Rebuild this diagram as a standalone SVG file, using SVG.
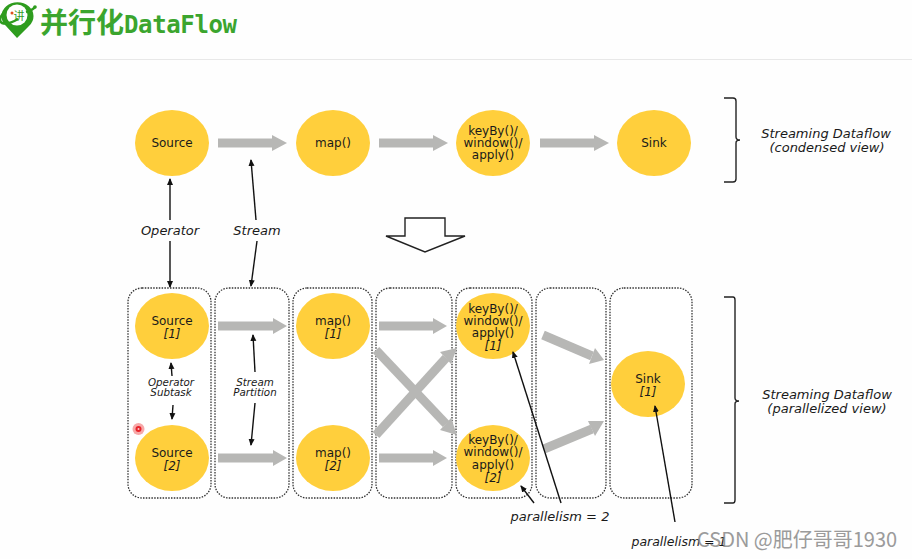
<svg xmlns="http://www.w3.org/2000/svg" width="912" height="559" viewBox="0 0 912 559">
<defs>
<marker id="bk" markerWidth="7" markerHeight="7" refX="6" refY="3" orient="auto" markerUnits="userSpaceOnUse" viewBox="0 0 7 6"><path d="M0 0L7 3L0 6Z" fill="#111"/></marker>
</defs>
<style>
text{font-family:"DejaVu Sans","Liberation Sans",sans-serif;fill:#1a1a1a;text-anchor:middle}
.n ellipse{fill:#ffcf3c}
.t{font-size:12px}
.i{font-style:italic}
.l{font-size:13px;font-style:italic}
.s{font-size:10.300px;font-style:italic}
.box{fill:#fff;stroke:#333;stroke-width:1.3;stroke-dasharray:1.5 1.3}
.g{stroke:#b7b7b5;stroke-width:9;fill:none}
.gh{fill:#b7b7b5}
.b{stroke:#111;stroke-width:1.4;fill:none;marker-end:url(#bk)}
.br{stroke:#222;stroke-width:1.4;fill:none}
</style>
<rect width="912" height="559" fill="#fefefe"/>

<g id="header">
<path d="M17 38L6 26A16 14 0 1 1 29 26Z" fill="#2e9c1e"/>
<circle cx="17" cy="15" r="10.500" fill="#fff"/>
<path d="M5 11Q-3 20 2 23Q8 25 18 19" fill="none" stroke="#2e9c1e" stroke-width="2.500"/>
<path d="M26 12Q33 10 35 7" fill="none" stroke="#2e9c1e" stroke-width="2.500"/>
<circle cx="35" cy="7" r="1.800" fill="#2e9c1e"/>
<circle cx="12" cy="13" r="1.500" fill="#e0501e"/>
<text x="19" y="20" style="font-family:'Noto Sans CJK SC',sans-serif;font-size:11px;fill:#2e9c1e">讲</text>
<text x="40" y="33" style="font-family:'Noto Sans CJK SC',sans-serif;font-size:28px;font-weight:700;fill:#3ba52e;text-anchor:start">并行化</text>
<text x="124" y="33" textLength="113" lengthAdjust="spacing" style="font-family:'DejaVu Sans Mono','Liberation Mono',monospace;font-size:24px;font-weight:700;fill:#3ba52e;text-anchor:start">DataFlow</text>
<path d="M10 59.500H912" stroke="#e8e8e8" stroke-width="1.200"/>
</g>

<g id="subtask-boxes">
<rect id="box-source" class="box" x="128" y="288" width="83" height="210" rx="14"/>
<rect id="box-stream1" class="box" x="215" y="288" width="74" height="210" rx="14"/>
<rect id="box-map" class="box" x="293" y="288" width="79" height="210" rx="14"/>
<rect id="box-cross" class="box" x="376" y="288" width="76" height="210" rx="14"/>
<rect id="box-key" class="box" x="456" y="288" width="76" height="210" rx="14"/>
<rect id="box-stream2" class="box" x="536" y="288" width="70" height="210" rx="14"/>
<rect id="box-sink" class="box" x="610" y="288" width="82" height="210" rx="14"/>
</g>

<g id="stream-arrows">
<path class="g" d="M218 143H273"/><path class="gh" d="M272 135L287 143L272 151Z"/>
<path class="g" d="M379 143H434"/><path class="gh" d="M433 135L448 143L433 151Z"/>
<path class="g" d="M540 143H595"/><path class="gh" d="M594 135L609 143L594 151Z"/>
<path class="g" d="M218 326H274"/><path class="gh" d="M273 318L287 326L273 334Z"/>
<path class="g" d="M218 458H274"/><path class="gh" d="M273 450L287 458L273 466Z"/>
<path class="g" d="M379 326H434"/><path class="gh" d="M433 318L447 326L433 334Z"/>
<path class="g" d="M379 458H434"/><path class="gh" d="M433 450L447 458L433 466Z"/>
<path class="g" d="M376 350L446 424"/><path class="gh" d="M440 430L457 435L451 418Z"/>
<path class="g" d="M376 435L446 358"/><path class="gh" d="M440 352L457 348L451 364Z"/>
<path class="g" d="M543 335L592 356"/><path class="gh" d="M589 364L604 360L595 348Z"/>
<path class="g" d="M544 449L592 429"/><path class="gh" d="M588 421L604 421L595 436Z"/>
</g>

<g id="node-source" class="n"><ellipse cx="172" cy="143" rx="37" ry="33"/><text class="t" x="172" y="147">Source</text></g>
<g id="node-map" class="n"><ellipse cx="333" cy="143" rx="37" ry="33"/><text class="t" x="333" y="147">map()</text></g>
<g id="node-keyby" class="n"><ellipse cx="493" cy="143" rx="37" ry="33"/><text class="t" x="493" y="135">keyBy()/</text><text class="t" x="493" y="147">window()/</text><text class="t" x="493" y="159">apply()</text></g>
<g id="node-sink" class="n"><ellipse cx="654" cy="143" rx="37" ry="33"/><text class="t" x="654" y="147">Sink</text></g>

<g id="node-source1" class="n"><ellipse cx="172" cy="326" rx="37" ry="33"/><text class="t" x="172" y="325">Source</text><text class="t i" x="172" y="338">[1]</text></g>
<g id="node-source2" class="n"><ellipse cx="172" cy="458" rx="37" ry="33"/><text class="t" x="172" y="457">Source</text><text class="t i" x="172" y="470">[2]</text></g>
<g id="node-map1" class="n"><ellipse cx="333" cy="326" rx="37" ry="33"/><text class="t" x="333" y="325">map()</text><text class="t i" x="333" y="338">[1]</text></g>
<g id="node-map2" class="n"><ellipse cx="333" cy="458" rx="37" ry="33"/><text class="t" x="333" y="457">map()</text><text class="t i" x="333" y="470">[2]</text></g>
<g id="node-keyby1" class="n"><ellipse cx="493" cy="326" rx="37" ry="33"/><text class="t" x="493" y="313">keyBy()/</text><text class="t" x="493" y="325">window()/</text><text class="t" x="493" y="337">apply()</text><text class="t i" x="493" y="350">[1]</text></g>
<g id="node-keyby2" class="n"><ellipse cx="493" cy="458" rx="37" ry="33"/><text class="t" x="493" y="444">keyBy()/</text><text class="t" x="493" y="456">window()/</text><text class="t" x="493" y="469">apply()</text><text class="t i" x="493" y="482">[2]</text></g>
<g id="node-sink1" class="n"><ellipse cx="648" cy="384" rx="37" ry="33"/><text class="t" x="648" y="383">Sink</text><text class="t i" x="648" y="396">[1]</text></g>

<g id="connectors">
<path id="hollow-arrow" d="M405 218H445V236H465L425 252L386 236H405Z" fill="#fff" stroke="#222" stroke-width="1.400"/>
<path class="b" d="M170 220V179"/>
<path class="b" d="M170 241V287"/>
<path class="b" d="M256 220L251 160"/>
<path class="b" d="M257 241L251 286"/>
<path class="b" d="M172 376L171 363"/>
<path class="b" d="M173 405L172 419"/>
<path class="b" d="M255 372L253 335"/>
<path class="b" d="M255 403L251 445"/>
<path class="b" d="M561 503L513 352"/>
<path class="b" d="M534 503L521 486"/>
<path class="b" d="M675 522L655 406"/>
</g>

<g id="labels">
<text class="l" x="170" y="235">Operator</text>
<text class="l" x="257" y="235">Stream</text>
<text class="s" x="171" y="386">Operator</text><text class="s" x="171" y="396">Subtask</text>
<text class="s" x="255" y="386">Stream</text><text class="s" x="255" y="396">Partition</text>
<text class="l" x="826" y="138">Streaming Dataflow</text>
<text class="l" x="827" y="152">(condensed view)</text>
<text class="l" x="827" y="399">Streaming Dataflow</text>
<text class="l" x="827" y="413">(parallelized view)</text>
<text class="l" x="560" y="521">parallelism = 2</text>
<text class="l" x="679" y="546" style="font-size:12.500px">parallelism = 1</text>
</g>

<g id="braces">
<path class="br" d="M724 98H733Q736 98 736 101V137Q736 140 740 140Q736 140 736 143V179Q736 182 733 182H724"/>
<path class="br" d="M724 297H733Q735 297 735 300V398Q735 401 739 401Q735 401 735 404V500Q735 503 733 503H724"/>
</g>

<g id="cursor-mark">
<circle cx="138.500" cy="429" r="6" fill="#f7a8a8"/>
<circle cx="138.500" cy="429" r="3" fill="#e8222a"/>
<circle cx="138.500" cy="429" r="1" fill="#f8c8c8"/>
</g>
<text id="watermark" x="697" y="547" style="font-family:'Noto Sans CJK SC','DejaVu Sans',sans-serif;font-size:20px;fill:#8a8a8a;text-anchor:start;opacity:.85">CSDN @肥仔哥哥1930</text>
</svg>
